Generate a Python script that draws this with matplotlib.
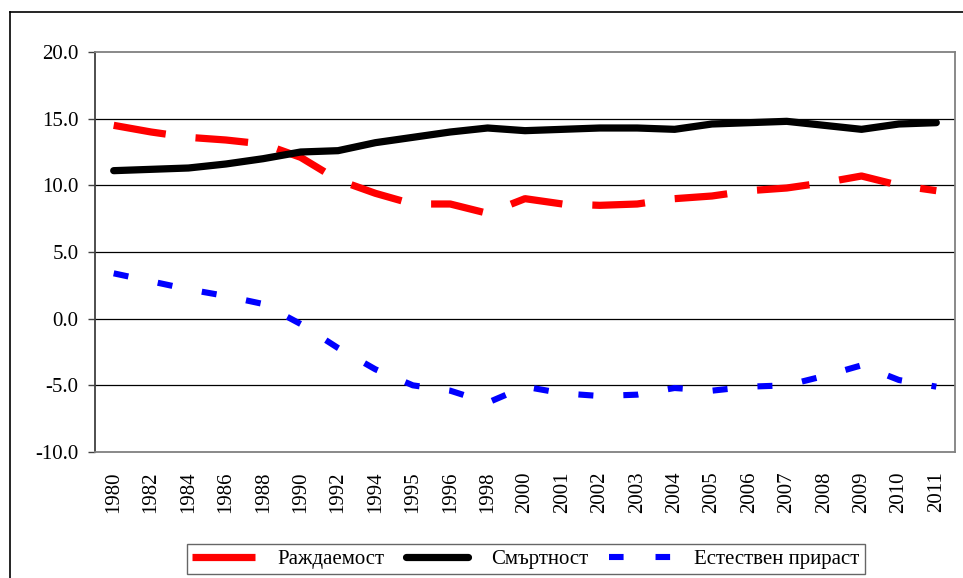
import matplotlib
matplotlib.use("Agg")
import matplotlib.pyplot as plt
from matplotlib.lines import Line2D

years = ["1980", "1982", "1984", "1986", "1988", "1990", "1992", "1994", "1995", "1996",
         "1998", "2000", "2001", "2002", "2003", "2004", "2005", "2006", "2007", "2008",
         "2009", "2010", "2011"]
birth = [14.5, 14.0, 13.6, 13.4, 13.1, 12.1, 10.4, 9.4, 8.6, 8.6,
         7.9, 9.0, 8.6, 8.5, 8.6, 9.0, 9.2, 9.6, 9.8, 10.2,
         10.7, 10.0, 9.6]
death = [11.1, 11.2, 11.3, 11.6, 12.0, 12.5, 12.6, 13.2, 13.6, 14.0,
         14.3, 14.1, 14.2, 14.3, 14.3, 14.2, 14.6, 14.7, 14.8, 14.5,
         14.2, 14.6, 14.7]
growth = [3.4, 2.8, 2.2, 1.7, 1.1, -0.4, -2.2, -3.8, -5.0, -5.4,
          -6.3, -5.1, -5.6, -5.8, -5.7, -5.2, -5.4, -5.1, -5.0, -4.3,
          -3.5, -4.6, -5.1]
labels = ["Раждаемост", "Смъртност", "Естествен прираст"]
yticks = [-10, -5, 0, 5, 10, 15, 20]

plt.rcParams['font.family'] = ['Liberation Serif', 'DejaVu Serif']
plt.rcParams['axes.unicode_minus'] = False
plt.rcParams['lines.scale_dashes'] = False

W, H = 963, 578
fig = plt.figure(figsize=(W / 100, H / 100), dpi=100)
ax = fig.add_axes([95 / W, 1 - 452 / H, (955 - 95) / W, (452 - 52) / H])

# outer frame (top and left visible)
fig.add_artist(Line2D([10 / W, 1.0], [1 - 12 / H, 1 - 12 / H], transform=fig.transFigure,
                      color='black', lw=1.2))
fig.add_artist(Line2D([10 / W, 10 / W], [0, 1 - 12 / H], transform=fig.transFigure,
                      color='black', lw=1.2))

x = list(range(len(years)))
ax.plot(x, birth, color='#ff0000', lw=5.2, dashes=(38, 21.6), dash_capstyle='butt', zorder=3)
ax.plot(x, death, color='black', lw=5.2, solid_capstyle='round', solid_joinstyle='round', zorder=4)
ax.plot(x, growth, color='#0000ff', lw=4.4, dashes=(10.8, 21.6), dash_capstyle='butt', zorder=3)

ax.set_xlim(-0.5, len(years) - 0.5)
ax.set_ylim(-10, 20)
ax.set_yticks(yticks)
ax.set_yticklabels([f"{v:.1f}" for v in yticks], fontsize=15)
ax.set_xticks(x)
ax.set_xticklabels(years, rotation=90, fontsize=15, va='top', ha='center')
ax.tick_params(axis='x', length=0, pad=14)
ax.tick_params(axis='y', length=5, width=1, color='#404040', pad=7, direction='out')
for v in yticks[1:-1]:
    ax.axhline(v, color='black', lw=0.9, zorder=1)

for s in ['top', 'right', 'bottom']:
    ax.spines[s].set_color('#808080')
    ax.spines[s].set_linewidth(1.3)
ax.spines['left'].set_color('#404040')
ax.spines['left'].set_linewidth(1.3)

# legend sample lines
h1 = Line2D([], [], color='#ff0000', lw=5.2, solid_capstyle='butt')
h2 = Line2D([], [], color='black', lw=5.2, solid_capstyle='round')
h3 = Line2D([], [], color='#0000ff', lw=4.4, dashes=(10.5, 23), dash_capstyle='butt')

leg = fig.legend(handles=[h1, h2, h3], labels=labels, loc='center',
                 bbox_to_anchor=(526 / W, 1 - 559 / H), ncol=3, fontsize=15,
                 frameon=True, fancybox=False, edgecolor='#404040',
                 handlelength=3.0, handletextpad=1.1, columnspacing=1.0,
                 borderpad=0.25, borderaxespad=0)
leg.get_frame().set_linewidth(1.0)

fig.savefig("out.png", dpi=100)
